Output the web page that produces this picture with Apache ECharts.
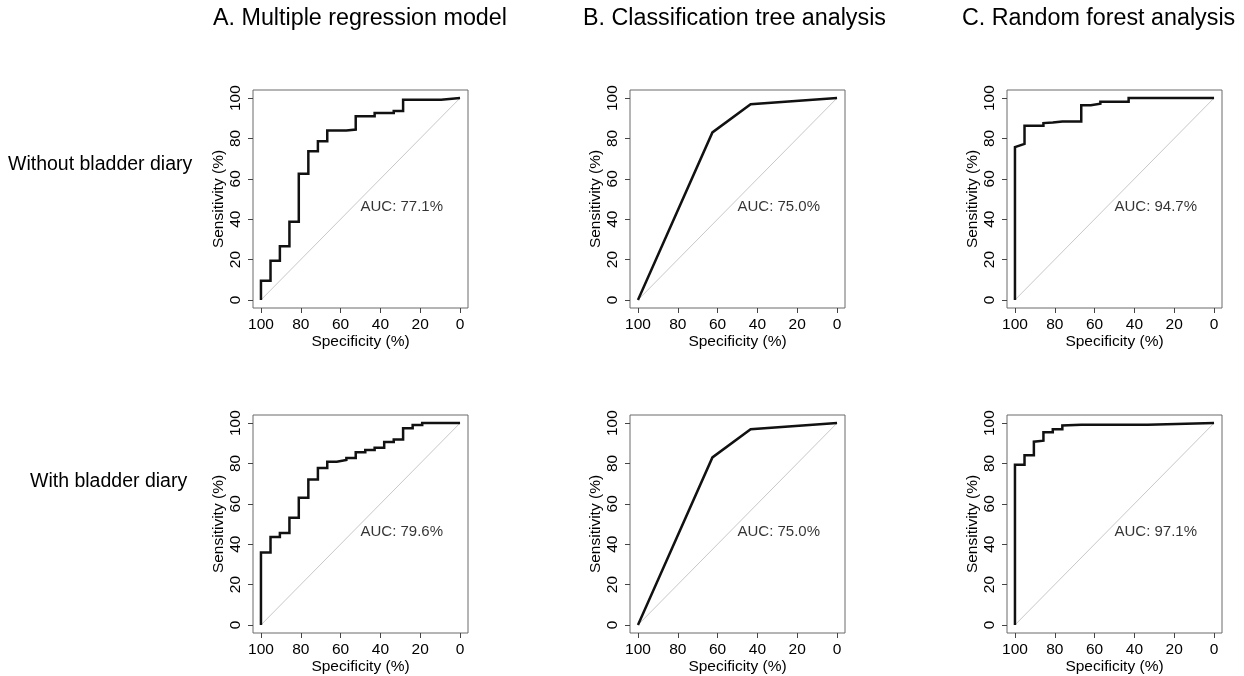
<!DOCTYPE html>
<html>
<head>
<meta charset="utf-8">
<script src="https://cdn.jsdelivr.net/npm/echarts@6.0.0/dist/echarts.min.js"></script>
<style>
  html, body { margin: 0; padding: 0; background: #fff; }
  #main { width: 1244px; height: 676px; }
</style>
</head>
<body>
<div id="main"></div>
<script>
// 文字
var panelTitles = ['A. Multiple regression model', 'B. Classification tree analysis', 'C. Random forest analysis'];
var rowLabels = ['Without bladder diary', 'With bladder diary'];
var tickValues = [0, 20, 40, 60, 80, 100];
var aucValues = [77.1, 75.0, 94.7, 79.6, 75.0, 97.1];

// ROC 曲线 (specificity %, sensitivity %)
var specA1 = [100, 100, 95.2, 95.2, 90.5, 90.5, 85.7, 85.7, 81.0, 81.0, 76.2, 76.2, 71.4, 71.4, 66.7, 66.7, 57.1, 57.1, 52.4, 52.4, 42.9, 42.9, 33.3, 33.3, 28.6, 28.6, 9.5, 9.5, 0];
var sensA1 = [0, 9.5, 9.5, 19.4, 19.4, 26.6, 26.6, 38.7, 38.7, 62.5, 62.5, 73.7, 73.7, 78.6, 78.6, 83.9, 83.9, 84.4, 84.4, 91.0, 91.0, 92.6, 92.6, 93.6, 93.6, 99.2, 99.2, 100, 100];

var specB1 = [100, 62.6, 43.4, 0];
var sensB1 = [0, 83.0, 97.0, 100];

var specC1 = [100, 100, 95.2, 95.2, 85.7, 85.7, 81.0, 76.2, 66.7, 66.7, 61.9, 61.9, 57.1, 57.1, 42.9, 42.9, 0];
var sensC1 = [0, 75.7, 77.3, 86.3, 86.3, 87.6, 87.9, 88.4, 88.4, 96.4, 96.4, 97.2, 97.2, 98.2, 98.2, 100, 100];

var specA2 = [100, 100, 95.2, 95.2, 90.5, 90.5, 85.7, 85.7, 81.0, 81.0, 76.2, 76.2, 71.4, 71.4, 66.7, 66.7, 61.9, 61.9, 57.1, 57.1, 52.4, 52.4, 47.6, 47.6, 42.9, 42.9, 38.1, 38.1, 33.3, 33.3, 28.6, 28.6, 23.8, 23.8, 19.0, 19.0, 0];
var sensA2 = [0, 35.9, 35.9, 43.6, 43.6, 45.6, 45.6, 53.1, 53.1, 63.0, 63.0, 72.0, 72.0, 77.8, 77.8, 80.8, 80.8, 81.7, 81.7, 82.7, 82.7, 85.5, 85.5, 86.7, 86.7, 87.8, 87.8, 90.6, 90.6, 91.9, 91.9, 97.4, 97.4, 99.0, 99.0, 100, 100];

var specB2 = [100, 62.6, 43.4, 0];
var sensB2 = [0, 83.0, 97.0, 100];

var specC2 = [100, 100, 95.2, 95.2, 90.5, 90.5, 85.7, 85.7, 81.0, 81.0, 76.2, 76.2, 66.7, 33.3, 33.3, 0];
var sensC2 = [0, 79.4, 79.4, 84.0, 84.0, 90.8, 91.3, 95.4, 95.4, 97.0, 97.0, 98.8, 99.2, 99.2, 100, 100];

var curves = [
	[specA1, sensA1], [specB1, sensB1], [specC1, sensC1],
	[specA2, sensA2], [specB2, sensB2], [specC2, sensC2]
];

var font = 'Liberation Sans, Arial, sans-serif';
var boxLeft = [253, 630, 1007];
var boxTop = [90, 415];

function zip(xs, ys) {
	var out = [];
	for (var i = 0; i < xs.length; i++) {
		out.push([xs[i], ys[i]]);
	}
	return out;
}

var grid = [], xAxis = [], yAxis = [], series = [], graphic = [];

for (var i = 0; i < 6; i++) {
	var row = Math.floor(i / 3), col = i % 3;
	grid.push({
		left: boxLeft[col], top: boxTop[row], width: 215, height: 218,
		show: true, borderColor: '#6a6a6a', borderWidth: 1, backgroundColor: 'transparent'
	});
	xAxis.push({
		type: 'value', gridIndex: i, min: -4, max: 104, inverse: true,
		name: 'Specificity (%)', nameLocation: 'middle', nameGap: 22,
		nameTextStyle: { fontFamily: font, fontSize: 15.5, color: '#000' },
		axisLine: { show: false, onZero: false },
		splitLine: { show: false },
		axisTick: { show: true, length: 5, customValues: tickValues, lineStyle: { color: '#444' } },
		axisLabel: { customValues: tickValues, fontFamily: font, fontSize: 15.5, color: '#000', margin: 9 }
	});
	yAxis.push({
		type: 'value', gridIndex: i, min: -4, max: 104,
		name: 'Sensitivity (%)', nameLocation: 'middle', nameGap: 24,
		nameTextStyle: { fontFamily: font, fontSize: 15.5, color: '#000' },
		axisLine: { show: false, onZero: false },
		splitLine: { show: false },
		axisTick: { show: true, length: 5, customValues: tickValues, lineStyle: { color: '#444' } },
		axisLabel: { customValues: tickValues, rotate: 90, fontFamily: font, fontSize: 15.5, color: '#000', margin: 9 }
	});
	// 对角线
	series.push({
		type: 'line', xAxisIndex: i, yAxisIndex: i, silent: true,
		data: [[100, 0], [0, 100]], symbol: 'none',
		lineStyle: { color: '#c8c8c8', width: 1 }
	});
	// ROC
	series.push({
		type: 'line', xAxisIndex: i, yAxisIndex: i, silent: true,
		data: zip(curves[i][0], curves[i][1]), symbol: 'none',
		lineStyle: { color: '#111', width: 2.5, join: 'miter' }
	});
	// AUC
	series.push({
		type: 'scatter', xAxisIndex: i, yAxisIndex: i, silent: true,
		data: [[50, 46, aucValues[i]]], symbolSize: 0,
		label: {
			show: true, position: 'right', distance: 0,
			fontFamily: font, fontSize: 15, color: '#000',
			formatter: function (p) { return 'AUC: ' + p.value[2].toFixed(1) + '%'; }
		}
	});
}

var titleX = [213, 583, 962];
for (var c = 0; c < 3; c++) {
	graphic.push({
		type: 'text', left: titleX[c], top: 7,
		style: { text: panelTitles[c], fontFamily: font, fontSize: 23.3, fill: '#000' }
	});
}
graphic.push({
	type: 'text', left: 8, top: 155,
	style: { text: rowLabels[0], fontFamily: font, fontSize: 19.5, fill: '#000' }
});
graphic.push({
	type: 'text', left: 30, top: 472,
	style: { text: rowLabels[1], fontFamily: font, fontSize: 19.5, fill: '#000' }
});

var myChart = echarts.init(document.getElementById('main'));
myChart.setOption({
	animation: false,
	backgroundColor: '#fff',
	grid: grid,
	xAxis: xAxis,
	yAxis: yAxis,
	series: series,
	graphic: graphic
});
</script>
</body>
</html>
